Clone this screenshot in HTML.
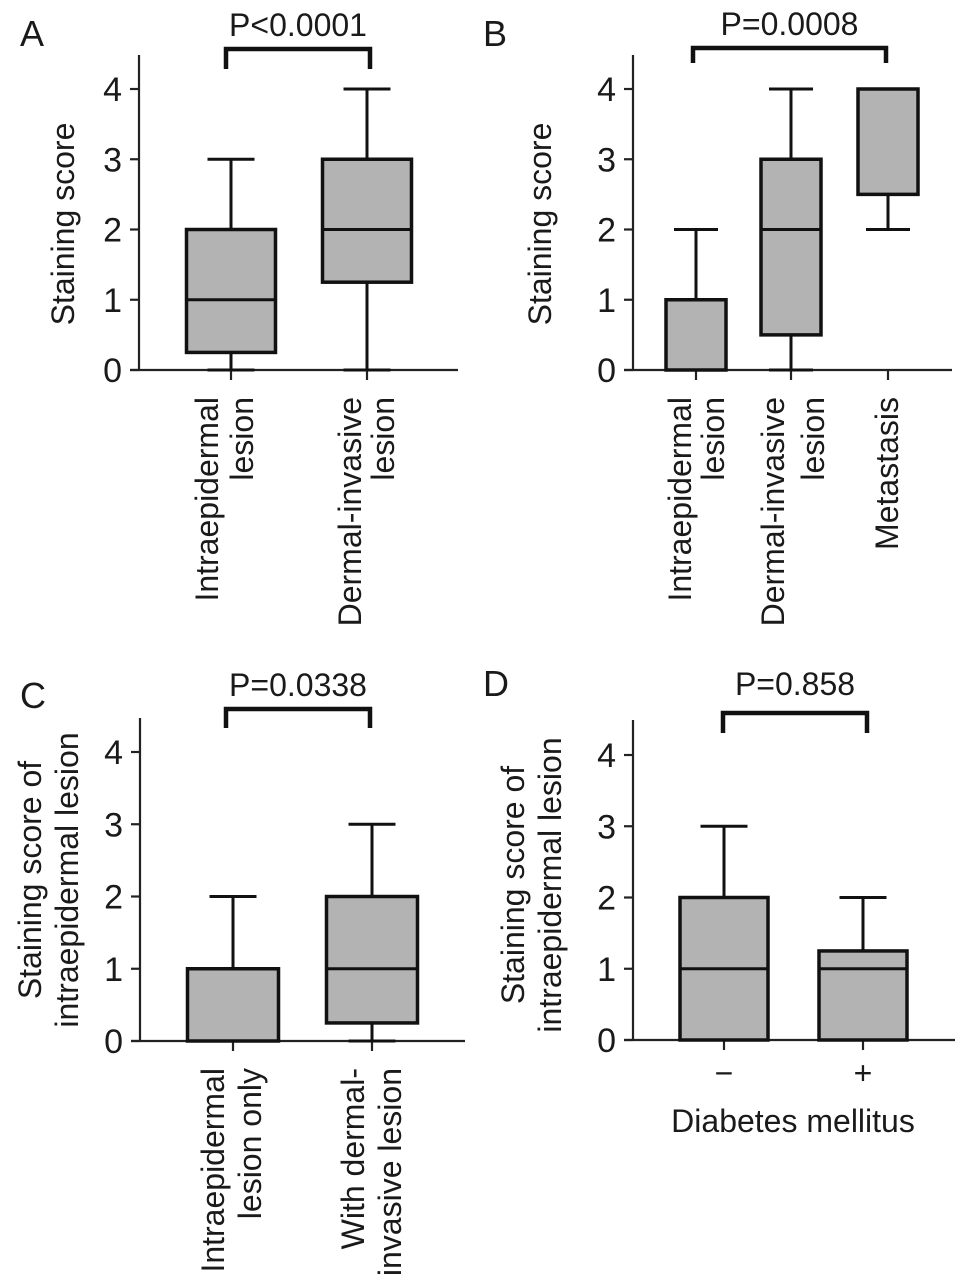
<!DOCTYPE html>
<html><head><meta charset="utf-8"><style>
html,body{margin:0;padding:0;background:#fff}
svg{display:block}
text{font-family:"Liberation Sans",Arial,sans-serif;fill:#1a1a1a}
</style></head><body>
<svg id="fig" width="969" height="1283" viewBox="0 0 969 1283" xmlns="http://www.w3.org/2000/svg"></svg>
<script>
// Panel A data
const catsA = ["Intraepidermal lesion", "Dermal-invasive lesion"];
const minA = [0, 0];
const q1A = [0.25, 1.25];
const medA = [1, 2];
const q3A = [2, 3];
const maxA = [3, 4];
// Panel B data
const catsB = ["Intraepidermal lesion", "Dermal-invasive lesion", "Metastasis"];
const minB = [0, 0, 2];
const q1B = [0, 0.5, 2.5];
const medB = [1, 2, 4];
const q3B = [1, 3, 4];
const maxB = [2, 4, 4];
// Panel C data
const catsC = ["Intraepidermal lesion only", "With dermal-invasive lesion"];
const minC = [0, 0];
const q1C = [0, 0.25];
const medC = [1, 1];
const q3C = [1, 2];
const maxC = [2, 3];
// Panel D data
const catsD = ["−", "+"];
const minD = [0, 0];
const q1D = [0, 0];
const medD = [1, 1];
const q3D = [2, 1.25];
const maxD = [3, 2];
const yTicks = [0, 1, 2, 3, 4];
const pLabels = ["P<0.0001", "P=0.0008", "P=0.0338", "P=0.858"];

const FS = 32;
const NS = "http://www.w3.org/2000/svg";
const svg = document.getElementById("fig");
function mk(tag, attrs, parent) {
  const e = document.createElementNS(NS, tag);
  for (const k in attrs) e.setAttribute(k, attrs[k]);
  (parent || svg).appendChild(e);
  return e;
}

function panel(cfg) {
  const g = mk("g", {});
  
  
  const y = v => cfg.y0 - v * (cfg.y0 - cfg.y4) / 4;
  const L = mk("text", {x: cfg.letterX, y: cfg.letterY, "font-size": 36}, g);
  L.textContent = cfg.letter;
  
  
  const ya = mk("line", {x1: cfg.ax, x2: cfg.ax, y1: cfg.axTop, y2: cfg.y0, stroke: "#222", "stroke-width": 2.2}, g);
  
  
  const xa = mk("line", {x1: cfg.ax - 9, x2: cfg.axRight, y1: cfg.y0, y2: cfg.y0, stroke: "#222", "stroke-width": 2.2}, g);
  
  
  yTicks.forEach(t => {
    const tl = mk("line", {x1: cfg.ax - 9, x2: cfg.ax, y1: y(t), y2: y(t), stroke: "#222", "stroke-width": 2.2}, g);
    
    
    const tt = mk("text", {x: cfg.ax - 17, y: y(t) + 12, "font-size": FS + 2, "text-anchor": "end"}, g);
    tt.textContent = t;
    
    
  });
  cfg.yTitle.forEach((line, i) => {
    const tx = cfg.yTitleX[i];
    const t = mk("text", {x: 0, y: 0, "font-size": FS, "text-anchor": "middle", transform: `translate(${tx},${cfg.yTitleY}) rotate(-90)`}, g);
    t.textContent = line;
    
    
  });
  cfg.cats.forEach((c, i) => {
    const cx = cfg.cx[i], hw = cfg.bw / 2, cw = cfg.cap / 2;
    const bg = mk("g", {}, g);
    
    
    const tk = mk("line", {x1: cx, x2: cx, y1: cfg.y0, y2: cfg.y0 + 10, stroke: "#222", "stroke-width": 2.2}, bg);
    
    
    const w1 = mk("line", {x1: cx, x2: cx, y1: y(cfg.max[i]), y2: y(cfg.q3[i]), stroke: "#111", "stroke-width": 3}, bg);
    
    
    const w2 = mk("line", {x1: cx, x2: cx, y1: y(cfg.q1[i]), y2: y(cfg.min[i]), stroke: "#111", "stroke-width": 3}, bg);
    
    
    [cfg.max[i], cfg.min[i]].forEach(v => {
      const cp = mk("line", {x1: cx - cw, x2: cx + cw, y1: y(v), y2: y(v), stroke: "#111", "stroke-width": 3}, bg);
      
      
    });
    const r = mk("rect", {x: cx - hw, y: y(cfg.q3[i]), width: cfg.bw, height: Math.max(0, y(cfg.q1[i]) - y(cfg.q3[i])), fill: "#b3b3b3", stroke: "#111", "stroke-width": 3.5}, bg);
    
    
    const m = mk("line", {x1: cx - hw, x2: cx + hw, y1: y(cfg.med[i]), y2: y(cfg.med[i]), stroke: "#111", "stroke-width": 3}, bg);
    
    
    if (cfg.rotLabels) {
      const lines = cfg.labelLines[i];
      lines.forEach((ln, j) => {
        const bx = cfg.lblX[i][j];
        const t = mk("text", {x: 0, y: 0, "font-size": FS, "text-anchor": "end", transform: `translate(${bx},${cfg.lblTop}) rotate(-90)`}, g);
        t.textContent = ln;
        
        
      });
    } else {
      const t = mk("text", {x: cx, y: cfg.y0 + 44, "font-size": FS, "text-anchor": "middle"}, g);
      t.textContent = c;
      
      
    }
  });
  const br = mk("path", {d: `M${cfg.brX1},${cfg.brB} V${cfg.brY} H${cfg.brX2} V${cfg.brB}`, fill: "none", stroke: "#111", "stroke-width": 4.5}, g);
  
  
  const p = mk("text", {x: (cfg.brX1 + cfg.brX2) / 2, y: cfg.pY, "font-size": FS, "text-anchor": "middle"}, g);
  p.textContent = cfg.p;
  
  
  if (cfg.xTitle) {
    const t = mk("text", {x: cfg.xTitleX, y: cfg.xTitleY, "font-size": FS, "text-anchor": "middle"}, g);
    t.textContent = cfg.xTitle;
    
    
  }
}

panel({name: "panel-a", letter: "A", letterX: 20, letterY: 46, ax: 139, axTop: 55, axRight: 458, y0: 370, y4: 89,
  cats: catsA, min: minA, q1: q1A, med: medA, q3: q3A, max: maxA, cx: [231, 367], bw: 89, cap: 47,
  yTitle: ["Staining score"], yTitleX: [74], yTitleY: 224,
  rotLabels: true, labelLines: [["Intraepidermal", "lesion"], ["Dermal-invasive", "lesion"]],
  lblX: [[218, 253], [361, 394]], lblTop: 397,
  brX1: 226, brX2: 370, brY: 49, brB: 69, p: pLabels[0], pY: 36});
panel({name: "panel-b", letter: "B", letterX: 483, letterY: 46, ax: 633, axTop: 55, axRight: 952, y0: 370, y4: 89,
  cats: catsB, min: minB, q1: q1B, med: medB, q3: q3B, max: maxB, cx: [696, 791, 888], bw: 60, cap: 44,
  yTitle: ["Staining score"], yTitleX: [551], yTitleY: 224,
  rotLabels: true, labelLines: [["Intraepidermal", "lesion"], ["Dermal-invasive", "lesion"], ["Metastasis"]],
  lblX: [[691, 724], [784, 824], [898]], lblTop: 397,
  brX1: 693, brX2: 886, brY: 48, brB: 63, p: pLabels[1], pY: 35});
panel({name: "panel-c", letter: "C", letterX: 20, letterY: 708, ax: 140, axTop: 718, axRight: 465, y0: 1041, y4: 752,
  cats: catsC, min: minC, q1: q1C, med: medC, q3: q3C, max: maxC, cx: [233, 372], bw: 91, cap: 47,
  yTitle: ["Staining score of", "intraepidermal lesion"], yTitleX: [41, 78], yTitleY: 880,
  rotLabels: true, labelLines: [["Intraepidermal", "lesion only"], ["With dermal-", "invasive lesion"]],
  lblX: [[224, 261], [364, 401]], lblTop: 1068,
  brX1: 226, brX2: 370, brY: 709, brB: 728, p: pLabels[2], pY: 696});
panel({name: "panel-d", letter: "D", letterX: 483, letterY: 696, ax: 633, axTop: 720, axRight: 955, y0: 1040, y4: 755,
  cats: catsD, min: minD, q1: q1D, med: medD, q3: q3D, max: maxD, cx: [724, 863], bw: 88, cap: 47,
  yTitle: ["Staining score of", "intraepidermal lesion"], yTitleX: [524, 561], yTitleY: 885,
  rotLabels: false,
  brX1: 723, brX2: 867, brY: 713, brB: 733, p: pLabels[3], pY: 695,
  xTitle: "Diabetes mellitus", xTitleX: 793, xTitleY: 1132});
</script>
</body></html>
